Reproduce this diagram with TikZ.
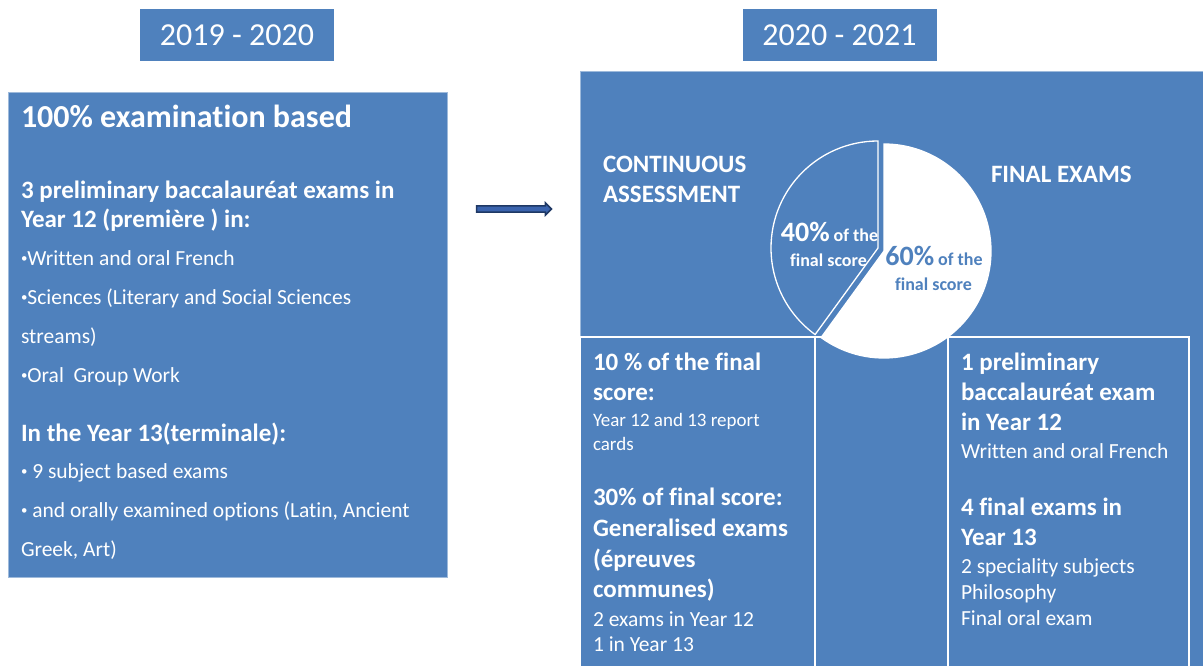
\documentclass[tikz,border=0pt]{standalone}
\usepackage{fontspec}
\setmainfont{Carlito}[Ligatures=NoCommon]
\usetikzlibrary{shapes.arrows}

\definecolor{boxblue}{HTML}{4F81BD}
\definecolor{arrowline}{HTML}{1F3864}
\definecolor{arrowfill}{HTML}{3B64AE}

\begin{document}
\begin{tikzpicture}[x=1pt, y=-1pt]
\tikzset{ inner sep=0pt, outer sep=0pt,
  panel/.style={fill=boxblue, draw=boxblue!55!white, line width=0.8pt, anchor=north west},
  cell/.style={draw=white, line width=1.3pt, anchor=north west},
  yearbox/.style={fill=boxblue, text=white, minimum width=194pt, minimum height=52pt,
                  font=\fontsize{32}{36}\selectfont},
  big/.style={anchor=base west, text=white, font=\bfseries\fontsize{32}{34}\selectfont},
  hd/.style={anchor=base west, text=white, font=\bfseries\fontsize{25}{28}\selectfont},
  tx/.style={anchor=base west, text=white, font=\fontsize{21.5}{24}\selectfont},
  sm/.style={anchor=base west, text=white, font=\fontsize{21.5}{24}\selectfont},
  pct/.style={anchor=base, font=\bfseries\fontsize{18}{20}\selectfont},
}
\newcommand{\bigpct}[1]{{\fontsize{28}{30}\selectfont #1}}
\newcommand{\dotb}{\raisebox{0.12em}{\scalebox{0.6}{•}}}

\useasboundingbox (0,0) rectangle (1203,666);

%\draw [lightgray, dashed] (0,0) grid[step=50] (1203,666);

% year headings
\node [yearbox] (Y1) at (237,35) {2019 - 2020};
\node [yearbox] (Y2) at (839.5,35) {2020 - 2021};

% old system
\node [panel, minimum width=439pt, minimum height=485pt] (old) at (8,92) {};

\node [big] (o1) at (21,128) {100\% examination based};
\node [hd]  (o2) at (21,199) {3 preliminary baccalauréat exams in};
\node [hd]  (o3) at (21,228) {Year 12 (première ) in:};
\node [tx]  (o4) at (21,265) {\dotb Written and oral French};
\node [tx]  (o5) at (21,304) {\dotb Sciences (Literary and Social Sciences};
\node [tx]  (o6) at (21,343) {streams)};
\node [tx]  (o7) at (21,382) {\dotb Oral~~Group Work};
\node [hd]  (o8) at (21,441) {In the Year 13(terminale):};
\node [tx]  (o9) at (21,478) {\dotb~9 subject based exams};
\node [tx] (o10) at (21,517) {\dotb~and orally examined options (Latin, Ancient};
\node [tx] (o11) at (21,556) {Greek, Art)};

% the reform
\node [single arrow, draw=arrowline, fill=arrowfill, line width=1.5pt,
       minimum height=75pt, inner sep=2.3pt,
       single arrow head extend=3pt, single arrow head indent=0pt] (shift) at (512.5,209) {};

% new system
\node [panel, minimum width=624pt, minimum height=600pt] (new) at (580,71) {};

\node [cell, minimum width=235pt, minimum height=340pt] (CA) at (580,337) {};
\node [cell, minimum width=133pt, minimum height=340pt] (MID) at (815,337) {};
\node [cell, minimum width=241pt, minimum height=340pt] (FE) at (948,337) {};

% pie 40 / 60
\draw [white, line width=1.3pt, fill=boxblue] (878,248) -- ++(-90:107)
      arc [start angle=-90, end angle=-234, radius=107] -- cycle;
\draw [white, line width=1.3pt, fill=white] (884,251) -- ++(126:107)
      arc [start angle=126, end angle=-90, radius=107] -- cycle;

\node [pct, text=white] (P1) at (829.5,241.7) {\bigpct{40\%} of the};
\node [pct, text=white] (P2) at (828.5,266.7) {final score};
\node [pct, text=boxblue] (P3) at (934,265) {\bigpct{60\%} of the};
\node [pct, text=boxblue] (P4) at (933.5,290.7) {final score};

\node [hd] (C1) at (603,172.7) {CONTINUOUS};
\node [hd] (C2) at (603,202.7) {ASSESSMENT};
\node [hd] (F1) at (991,182.7) {FINAL EXAMS};

% continuous assessment
\node [hd] (a1) at (593,370) {10 \% of the final};
\node [hd] (a2) at (593,400.7) {score:};
\node [sm, font=\fontsize{19}{22}\selectfont] (a3) at (593,426.7) {Year 12 and 13 report};
\node [sm, font=\fontsize{19}{22}\selectfont] (a4) at (593,450) {cards};
\node [hd] (a5) at (593,505) {30\% of final score:};
\node [hd] (a6) at (593,536.7) {Generalised exams};
\node [hd] (a7) at (593,567.3) {(épreuves};
\node [hd] (a8) at (593,597.7) {communes)};
\node [sm] (a9) at (593,626) {2 exams in Year 12};
\node [sm] (a10) at (593,651) {1 in Year 13};

% final exams
\node [hd] (f1) at (961,370) {1 preliminary};
\node [hd] (f2) at (961,400.7) {baccalauréat exam};
\node [hd] (f3) at (961,430) {in Year 12};
\node [sm] (f4) at (961,458.3) {Written and oral French};
\node [hd] (f5) at (961,515) {4 final exams in};
\node [hd] (f6) at (961,545) {Year 13};
\node [sm] (f7) at (961,573.3) {2 speciality subjects};
\node [sm] (f8) at (961,599.3) {Philosophy};
\node [sm] (f9) at (961,625) {Final oral exam};

\end{tikzpicture}
\end{document}
